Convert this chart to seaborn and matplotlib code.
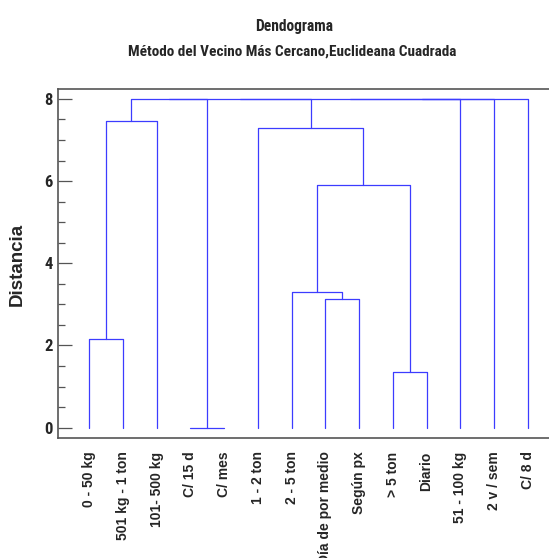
import matplotlib
matplotlib.use("Agg")
import matplotlib.pyplot as plt
from matplotlib.ticker import MultipleLocator
import seaborn as sns
import pandas as pd

# Leaf labels, left to right
leaves = ["0 - 50 kg", "501 kg - 1 ton", "101- 500 kg", "C/ 15 d", "C/ mes",
          "1 - 2 ton", "2 - 5 ton", "Día de por medio", "Según px", "> 5 ton",
          "Diario", "51 - 100 kg", "2 v / sem", "C/ 8 d"]

# Agglomeration steps: cluster ids 0..13 are leaves, new clusters get 14, 15, ...
merge_left = [3, 0, 9, 7, 6, 18, 5, 15, 21, 22, 23, 24, 25]
merge_right = [4, 1, 10, 8, 17, 16, 19, 2, 14, 20, 11, 12, 13]
merge_height = [0.0, 2.16, 1.35, 3.13, 3.29, 5.90, 7.28, 7.46, 8.0, 8.0, 8.0, 8.0, 8.0]

sns.set_theme(style="white")
narrow = ["Roboto Condensed", "DejaVu Sans"]
wide = ["Liberation Sans", "DejaVu Sans"]
plt.rcParams["font.family"] = wide

# Build the U-shaped links of the dendrogram
xpos = {i: i + 1 for i in range(len(leaves))}
ypos = {i: 0.0 for i in range(len(leaves))}
rows = []
n = len(leaves)
for k, (a, b, h) in enumerate(zip(merge_left, merge_right, merge_height)):
    xa, xb = xpos[a], xpos[b]
    ya, yb = ypos[a], ypos[b]
    for x, y in [(xa, ya), (xa, h), (xb, h), (xb, yb)]:
        rows.append({"x": x, "y": y, "link": k})
    xpos[n + k] = (xa + xb) / 2
    ypos[n + k] = h
links = pd.DataFrame(rows)

fig = plt.figure(figsize=(5.49, 5.58), dpi=100)
ax = fig.add_axes([58 / 549, 1 - 437.5 / 558, 1 - 58 / 549, (437.5 - 89) / 558])

sns.lineplot(data=links, x="x", y="y", units="link", estimator=None, sort=False,
             color="#3c3cff", linewidth=0.9, ax=ax)

ax.set_xlim(0.072, 14.63)
ax.set_ylim(-0.24, 8.24)
ax.set_xticks(range(1, n + 1))
ax.set_xticklabels(leaves, rotation=90, fontsize=10, fontweight="bold",
                   family=wide, va="top")
ax.tick_params(axis="x", length=0, pad=10)

ax.yaxis.set_major_locator(MultipleLocator(2))
ax.yaxis.set_minor_locator(MultipleLocator(0.5))
ax.tick_params(axis="y", which="major", direction="in", length=10, width=0.9,
               color="#555555", pad=4, left=True)
ax.tick_params(axis="y", which="minor", direction="in", length=5, width=0.9,
               color="#555555", left=True)
for lbl in ax.get_yticklabels():
    lbl.set_fontfamily(narrow)
    lbl.set_fontweight("bold")
    lbl.set_fontsize(12)

for side in ["left", "top", "bottom"]:
    ax.spines[side].set_color("#555555")
    ax.spines[side].set_linewidth(1.2)
ax.spines["right"].set_visible(False)

ax.set_xlabel("")
ax.set_ylabel("")
fig.text(17 / 549, 1 - 264 / 558, "Distancia", rotation=90, ha="center",
         va="center", fontsize=13.5, fontweight="bold", family=wide)

fig.text(294 / 549, 1 - 27 / 558, "Dendograma", ha="center", va="center",
         fontsize=11.2, fontweight="bold", family=narrow)
fig.text(292 / 549, 1 - 52 / 558,
         "Método del Vecino Más Cercano,Euclideana Cuadrada",
         ha="center", va="center", fontsize=11, fontweight="bold", family=narrow)

fig.savefig("out.png", dpi=100)
